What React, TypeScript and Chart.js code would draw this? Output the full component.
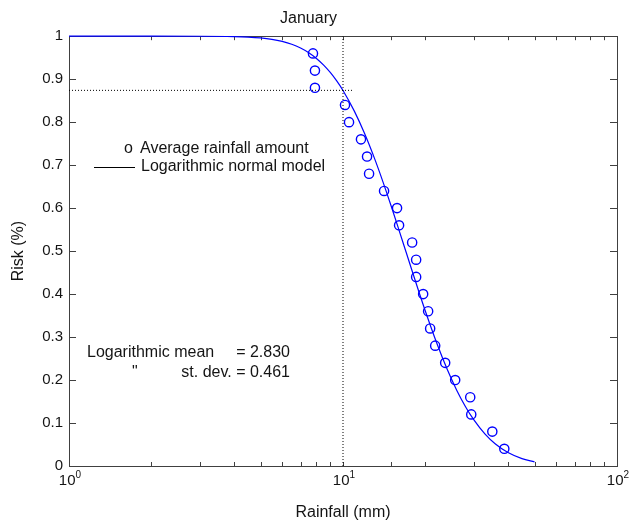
import React, { useEffect, useRef } from 'react';
import { Chart, registerables } from 'chart.js';

Chart.register(...registerables);

// ---- Data ----
const chartTitle = 'January';
const xAxisTitle = 'Rainfall (mm)';
const yAxisTitle = 'Risk (%)';

// Observed points (circles)
const observedRainfall = [
  7.77, 7.9, 7.9, 10.17, 10.52, 11.63, 12.24, 12.45, 14.12, 15.75, 16.02, 17.88,
  18.49, 18.49, 19.61, 20.45, 20.8, 21.7, 23.6, 25.67, 29.13, 29.38, 35.07, 38.79,
];
const observedRisk = [
  0.96, 0.92, 0.88, 0.84, 0.8, 0.76, 0.72, 0.68, 0.64, 0.6, 0.56, 0.52,
  0.48, 0.44, 0.4, 0.36, 0.32, 0.28, 0.24, 0.2, 0.16, 0.12, 0.08, 0.04,
];

// Logarithmic normal model curve
const modelRainfall = [
  1, 2, 3, 4, 4.5, 5, 5.5, 6, 6.5, 7, 7.5, 8, 8.5, 9, 9.5, 10, 11, 12, 13, 14, 15,
  16, 17, 18, 19, 20, 22, 24, 26, 28, 30, 33, 36, 40, 45, 50,
];
const modelRisk = [
  1.0, 1.0, 0.9999, 0.9991, 0.998, 0.996, 0.9927, 0.9878, 0.9812, 0.9724, 0.9615,
  0.9482, 0.9327, 0.9151, 0.8953, 0.8737, 0.8257, 0.773, 0.7174, 0.6606, 0.6043,
  0.5495, 0.4972, 0.4479, 0.402, 0.3596, 0.2856, 0.2251, 0.1765, 0.138, 0.1077,
  0.0741, 0.0511, 0.0312, 0.0171, 0.0095,
];

// Dotted reference lines
const refVerticalX = [10, 10];
const refVerticalY = [0, 1];
const refHorizontalX = [1, 10.8];
const refHorizontalY = [0.874, 0.874];

// Axis ranges / ticks
const xMin = 1;
const xMax = 100;
const yMin = 0;
const yMax = 1;
const yStep = 0.1;

// Text annotations
const legendMarkerText = 'o';
const legendPointsLabel = 'Average rainfall amount';
const legendLineLabel = 'Logarithmic normal model';
const meanLabel = 'Logarithmic mean';
const meanValue = '= 2.830';
const sdDitto = '"';
const sdValue = 'st. dev. = 0.461';

const FONT_FAMILY = '"Liberation Sans", Arial, Helvetica, sans-serif';
const TEXT_COLOR = '#141414';
const AXIS_COLOR = '#404040';
const BLUE = 'rgb(0,0,255)';

const toPoints = (xs: number[], ys: number[]) => xs.map((x, i) => ({ x, y: ys[i] }));

const decorPlugin = {
  id: 'decor',
  beforeDatasetsDraw(chart: any) {
    const { ctx, chartArea } = chart;
    const { left, right, top, bottom } = chartArea;
    const xs = chart.scales.x;
    const ys = chart.scales.y;
    ctx.save();
    ctx.strokeStyle = AXIS_COLOR;
    ctx.lineWidth = 1;
    ctx.strokeRect(Math.round(left) + 0.5, Math.round(top) + 0.5, Math.round(right - left), Math.round(bottom - top));
    ctx.beginPath();
    xs.ticks.forEach((t: any) => {
      if (t.value <= xMin || t.value >= xMax) return;
      const px = Math.round(xs.getPixelForValue(t.value)) + 0.5;
      ctx.moveTo(px, bottom);
      ctx.lineTo(px, bottom - 4);
      ctx.moveTo(px, top);
      ctx.lineTo(px, top + 4);
    });
    ys.ticks.forEach((t: any) => {
      if (t.value <= yMin || t.value >= yMax) return;
      const py = Math.round(ys.getPixelForValue(t.value)) + 0.5;
      ctx.moveTo(left, py);
      ctx.lineTo(left + 7, py);
      ctx.moveTo(right, py);
      ctx.lineTo(right - 7, py);
    });
    ctx.stroke();
    ctx.restore();
  },
  afterDraw(chart: any) {
    const { ctx, chartArea } = chart;
    const xs = chart.scales.x;
    ctx.save();
    ctx.fillStyle = TEXT_COLOR;
    // x tick labels: 10^n
    xs.ticks.forEach((t: any) => {
      const exp = Math.log10(t.value);
      if (Math.abs(exp - Math.round(exp)) > 1e-9) return;
      const px = xs.getPixelForValue(t.value);
      ctx.font = `15px ${FONT_FAMILY}`;
      ctx.textAlign = 'right';
      ctx.textBaseline = 'alphabetic';
      ctx.fillText('10', px + 6.5, chartArea.bottom + 19);
      ctx.font = `10px ${FONT_FAMILY}`;
      ctx.textAlign = 'left';
      ctx.fillText(String(Math.round(exp)), px + 6.5, chartArea.bottom + 11.5);
    });
    // legend
    ctx.font = `16px ${FONT_FAMILY}`;
    ctx.textBaseline = 'middle';
    ctx.textAlign = 'left';
    ctx.fillText(legendMarkerText, 124, 149);
    ctx.fillText(legendPointsLabel, 140, 149);
    ctx.fillText(legendLineLabel, 141, 167);
    ctx.strokeStyle = '#000';
    ctx.lineWidth = 1;
    ctx.beginPath();
    ctx.moveTo(94, 167.5);
    ctx.lineTo(135, 167.5);
    ctx.stroke();
    // parameters
    ctx.fillText(meanLabel, 87, 353);
    ctx.fillText(sdDitto, 132, 373);
    ctx.textAlign = 'right';
    ctx.fillText(meanValue, 290, 353);
    ctx.fillText(sdValue, 290, 373);
    ctx.restore();
  },
};

export default function App() {
  const canvasRef = useRef<HTMLCanvasElement | null>(null);

  useEffect(() => {
    if (!canvasRef.current) return;
    Chart.defaults.font.family = FONT_FAMILY;
    const chart = new Chart(canvasRef.current, {
      type: 'scatter',
      data: {
        datasets: [
          {
            label: 'refV',
            data: toPoints(refVerticalX, refVerticalY),
            showLine: true,
            borderColor: '#000',
            borderWidth: 1,
            borderDash: [1, 2],
            pointRadius: 0,
          },
          {
            label: 'refH',
            data: toPoints(refHorizontalX, refHorizontalY),
            showLine: true,
            borderColor: '#000',
            borderWidth: 1,
            borderDash: [1, 2],
            pointRadius: 0,
          },
          {
            label: legendLineLabel,
            data: toPoints(modelRainfall, modelRisk),
            showLine: true,
            borderColor: BLUE,
            borderWidth: 1.2,
            pointRadius: 0,
            cubicInterpolationMode: 'monotone',
            clip: false,
          },
          {
            label: legendPointsLabel,
            data: toPoints(observedRainfall, observedRisk),
            showLine: false,
            pointStyle: 'circle',
            pointRadius: 4.6,
            pointBorderWidth: 1.4,
            pointBorderColor: BLUE,
            pointBackgroundColor: 'rgba(0,0,0,0)',
            borderColor: BLUE,
            backgroundColor: 'rgba(0,0,0,0)',
          },
        ],
      },
      options: {
        animation: false,
        responsive: false,
        maintainAspectRatio: false,
        layout: { padding: { left: 0, right: 12, top: 0, bottom: 0 } },
        plugins: {
          legend: { display: false },
          tooltip: { enabled: false },
          title: {
            display: true,
            text: chartTitle,
            color: TEXT_COLOR,
            font: { size: 16, weight: 'normal', family: FONT_FAMILY },
            padding: { top: 9, bottom: 8 },
          },
        },
        scales: {
          x: {
            type: 'logarithmic',
            min: xMin,
            max: xMax,
            grid: { display: false, drawTicks: false },
            border: { display: false },
            ticks: { display: false, autoSkip: false },
            title: {
              display: true,
              text: xAxisTitle,
              color: TEXT_COLOR,
              font: { size: 16, family: FONT_FAMILY },
              padding: { top: 0, bottom: 2 },
            },
            afterFit: (scale: any) => {
              scale.height = 58;
            },
          },
          y: {
            type: 'linear',
            min: yMin,
            max: yMax,
            grid: { display: false, drawTicks: false },
            border: { display: false },
            ticks: {
              stepSize: yStep,
              color: TEXT_COLOR,
              font: { size: 15, family: FONT_FAMILY },
              padding: 6,
              callback: (v: any) => String(Math.round(Number(v) * 10) / 10),
            },
            title: {
              display: true,
              text: yAxisTitle,
              color: TEXT_COLOR,
              font: { size: 16, family: FONT_FAMILY },
              padding: { top: 9, bottom: 0 },
            },
            afterFit: (scale: any) => {
              scale.width = 69;
            },
          },
        },
      },
      plugins: [decorPlugin],
    } as any);
    return () => chart.destroy();
  }, []);

  return (
    <div style={{ position: 'absolute', left: 0, top: 0, width: 629, height: 524, background: '#fff' }}>
      <canvas ref={canvasRef} width={629} height={524} />
    </div>
  );
}
